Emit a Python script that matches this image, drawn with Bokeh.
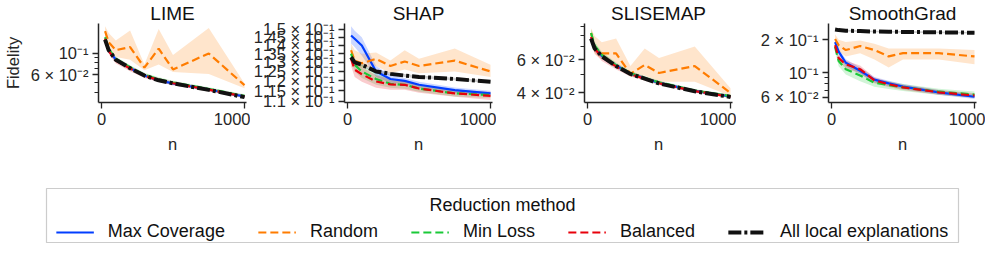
from bokeh.plotting import figure
from bokeh.models import Range1d, FixedTicker, Legend, LegendItem, Label
from bokeh.layouts import column, row
from bokeh.embed import file_html
from bokeh.resources import INLINE

# ---------------- data ----------------
N = [25, 50, 100, 200, 300, 400, 500, 750, 1000]
METHODS = ["Max Coverage", "Random", "Min Loss", "Balanced", "All local explanations"]
COLORS = ["#023eff", "#ff7c00", "#1ac938", "#e8000b", "#111111"]
DASHES = ["solid", "8 4", "8 4", "8 4", "13 3 3 3"]
WIDTHS = [2.2, 2.2, 2.2, 2.2, 4]
PANELS = ["LIME", "SHAP", "SLISEMAP", "SmoothGrad"]
X_TICKS = [0, 1000]

# LIME
LIME_MAXCOV = [0.135, 0.106, 0.086, 0.0705, 0.059, 0.0525, 0.049, 0.0425, 0.036]
LIME_MAXCOV_LO = [0.129, 0.101, 0.082, 0.0675, 0.0565, 0.0505, 0.047, 0.041, 0.0347]
LIME_MAXCOV_HI = [0.141, 0.111, 0.090, 0.0735, 0.0615, 0.0545, 0.051, 0.044, 0.0373]
LIME_RANDOM = [0.167, 0.129, 0.107, 0.115, 0.071, 0.111, 0.068, 0.099, 0.047]
LIME_RANDOM_LO = [0.149, 0.108, 0.091, 0.0855, 0.0666, 0.0765, 0.064, 0.061, 0.0437]
LIME_RANDOM_HI = [0.187, 0.16, 0.134, 0.17, 0.0765, 0.176, 0.0956, 0.18, 0.049]
LIME_MINLOSS = [0.145, 0.11, 0.0875, 0.0715, 0.06, 0.054, 0.05, 0.043, 0.0365]
LIME_MINLOSS_LO = [0.137, 0.104, 0.083, 0.068, 0.057, 0.0515, 0.0478, 0.0412, 0.035]
LIME_MINLOSS_HI = [0.153, 0.116, 0.092, 0.075, 0.063, 0.0565, 0.0522, 0.0448, 0.038]
LIME_BALANCED = [0.14, 0.105, 0.084, 0.0695, 0.0585, 0.053, 0.0492, 0.0423, 0.036]
LIME_BALANCED_LO = [0.132, 0.098, 0.078, 0.065, 0.0555, 0.0505, 0.047, 0.0405, 0.0345]
LIME_BALANCED_HI = [0.148, 0.112, 0.09, 0.074, 0.0615, 0.0555, 0.0514, 0.0441, 0.0375]
LIME_ALL = [0.137, 0.107, 0.0855, 0.07, 0.0589, 0.0527, 0.0491, 0.0421, 0.0355]
LIME_ALL_LO = [0.134, 0.105, 0.084, 0.0688, 0.058, 0.052, 0.0485, 0.0416, 0.0351]
LIME_ALL_HI = [0.140, 0.109, 0.087, 0.0712, 0.0598, 0.0534, 0.0497, 0.0426, 0.0359]

# SHAP
SHAP_MAXCOV = [0.146, 0.144, 0.1398, 0.125, 0.121, 0.120, 0.118, 0.1153, 0.1137]
SHAP_MAXCOV_LO = [0.141, 0.139, 0.134, 0.122, 0.119, 0.1185, 0.1165, 0.114, 0.1125]
SHAP_MAXCOV_HI = [0.152, 0.149, 0.145, 0.128, 0.123, 0.1215, 0.1195, 0.1166, 0.115]
SHAP_RANDOM = [0.137, 0.131, 0.1295, 0.132, 0.128, 0.1305, 0.128, 0.131, 0.125]
SHAP_RANDOM_LO = [0.134, 0.128, 0.127, 0.128, 0.124, 0.126, 0.124, 0.125, 0.122]
SHAP_RANDOM_HI = [0.141, 0.137, 0.135, 0.1357, 0.131, 0.137, 0.132, 0.138, 0.1287]
SHAP_MINLOSS = [0.135, 0.1287, 0.125, 0.121, 0.1185, 0.118, 0.1161, 0.1137, 0.1129]
SHAP_MINLOSS_LO = [0.131, 0.125, 0.1215, 0.118, 0.1165, 0.116, 0.1145, 0.1122, 0.1115]
SHAP_MINLOSS_HI = [0.139, 0.132, 0.1285, 0.124, 0.1205, 0.12, 0.1177, 0.1152, 0.1143]
SHAP_BALANCED = [0.132, 0.126, 0.1235, 0.1197, 0.1182, 0.118, 0.1161, 0.1137, 0.1125]
SHAP_BALANCED_LO = [0.128, 0.122, 0.1195, 0.1165, 0.1155, 0.1155, 0.114, 0.112, 0.1105]
SHAP_BALANCED_HI = [0.137, 0.130, 0.1275, 0.123, 0.121, 0.1205, 0.1182, 0.1155, 0.1145]
SHAP_ALL = [0.133, 0.130, 0.1287, 0.125, 0.1237, 0.1228, 0.1221, 0.121, 0.1195]
SHAP_ALL_LO = [0.1315, 0.1288, 0.1277, 0.1242, 0.1229, 0.122, 0.1214, 0.1203, 0.1188]
SHAP_ALL_HI = [0.1345, 0.1312, 0.1297, 0.1258, 0.1245, 0.1236, 0.1228, 0.1217, 0.1202]

# SLISEMAP
SLISE_MAXCOV = [0.078, 0.069, 0.0628, 0.0558, 0.0506, 0.0478, 0.0452, 0.041, 0.0383]
SLISE_MAXCOV_LO = [0.074, 0.066, 0.0605, 0.0542, 0.0494, 0.0468, 0.0443, 0.0403, 0.0377]
SLISE_MAXCOV_HI = [0.082, 0.072, 0.065, 0.0574, 0.0518, 0.0488, 0.0461, 0.0417, 0.0389]
SLISE_RANDOM = [0.083, 0.0687, 0.0647, 0.0647, 0.0504, 0.0562, 0.051, 0.0555, 0.04]
SLISE_RANDOM_LO = [0.0742, 0.064, 0.06, 0.0577, 0.0485, 0.0494, 0.0458, 0.0458, 0.0385]
SLISE_RANDOM_HI = [0.088, 0.08, 0.0742, 0.0775, 0.0555, 0.0687, 0.0612, 0.0703, 0.0424]
SLISE_MINLOSS = [0.083, 0.071, 0.0635, 0.056, 0.0508, 0.048, 0.0455, 0.0412, 0.0385]
SLISE_MINLOSS_LO = [0.079, 0.0675, 0.061, 0.054, 0.0494, 0.0468, 0.0445, 0.0404, 0.0378]
SLISE_MINLOSS_HI = [0.087, 0.0745, 0.066, 0.058, 0.0522, 0.0492, 0.0465, 0.042, 0.0392]
SLISE_BALANCED = [0.079, 0.0685, 0.062, 0.0552, 0.0502, 0.0476, 0.045, 0.0409, 0.0382]
SLISE_BALANCED_LO = [0.0745, 0.065, 0.059, 0.0532, 0.0488, 0.0464, 0.044, 0.0401, 0.0375]
SLISE_BALANCED_HI = [0.0835, 0.072, 0.065, 0.0572, 0.0516, 0.0488, 0.046, 0.0417, 0.0389]
SLISE_ALL = [0.0775, 0.0687, 0.0625, 0.0555, 0.0504, 0.0476, 0.0449, 0.0408, 0.0381]
SLISE_ALL_LO = [0.0765, 0.068, 0.062, 0.0551, 0.05, 0.0473, 0.0446, 0.0405, 0.0378]
SLISE_ALL_HI = [0.0785, 0.0694, 0.063, 0.0559, 0.0508, 0.0479, 0.0452, 0.0411, 0.0384]

# SmoothGrad
SG_MAXCOV = [0.19, 0.156, 0.1236, 0.1047, 0.087, 0.0804, 0.0753, 0.0668, 0.0609]
SG_MAXCOV_LO = [0.178, 0.146, 0.115, 0.098, 0.082, 0.076, 0.0715, 0.0636, 0.058]
SG_MAXCOV_HI = [0.203, 0.167, 0.133, 0.112, 0.092, 0.085, 0.0792, 0.070, 0.064]
SG_RANDOM = [0.203, 0.178, 0.161, 0.175, 0.161, 0.141, 0.151, 0.151, 0.141]
SG_RANDOM_LO = [0.178, 0.158, 0.141, 0.151, 0.132, 0.112, 0.132, 0.132, 0.12]
SG_RANDOM_HI = [0.224, 0.2, 0.19, 0.197, 0.184, 0.166, 0.166, 0.166, 0.161]
SG_MINLOSS = [0.172, 0.128, 0.108, 0.0948, 0.0815, 0.0777, 0.074, 0.0676, 0.0638]
SG_MINLOSS_LO = [0.158, 0.115, 0.097, 0.084, 0.075, 0.0715, 0.0685, 0.063, 0.0595]
SG_MINLOSS_HI = [0.186, 0.141, 0.119, 0.104, 0.088, 0.084, 0.0795, 0.072, 0.068]
SG_BALANCED = [0.178, 0.136, 0.1196, 0.108, 0.0858, 0.079, 0.074, 0.0668, 0.0625]
SG_BALANCED_LO = [0.166, 0.126, 0.11, 0.099, 0.0805, 0.0745, 0.07, 0.0635, 0.0595]
SG_BALANCED_HI = [0.19, 0.146, 0.129, 0.117, 0.091, 0.0835, 0.078, 0.0701, 0.0656]
SG_ALL = [0.247, 0.244, 0.241, 0.239, 0.237, 0.236, 0.235, 0.233, 0.231]
SG_ALL_LO = [0.242, 0.239, 0.237, 0.235, 0.233, 0.232, 0.231, 0.229, 0.227]
SG_ALL_HI = [0.252, 0.249, 0.245, 0.243, 0.241, 0.240, 0.239, 0.237, 0.235]

# y axis ticks per panel
LIME_YTICKS = [0.06, 0.1]
LIME_YLABELS = ["6 × 10⁻²", "10⁻¹"]
LIME_YMINOR = [0.04, 0.05, 0.07, 0.08, 0.09]
SHAP_YTICKS = [0.11, 0.115, 0.12, 0.125, 0.13, 0.135, 0.14, 0.145, 0.15]
SHAP_YLABELS = ["1.1 × 10⁻¹", "1.15 × 10⁻¹", "1.2 × 10⁻¹", "1.25 × 10⁻¹", "1.3 × 10⁻¹",
                "1.35 × 10⁻¹", "1.4 × 10⁻¹", "1.45 × 10⁻¹", "1.5 × 10⁻¹"]
SHAP_YMINOR = []
SLISE_YTICKS = [0.04, 0.06]
SLISE_YLABELS = ["4 × 10⁻²", "6 × 10⁻²"]
SLISE_YMINOR = [0.05, 0.07, 0.08, 0.09]
SG_YTICKS = [0.06, 0.1, 0.2]
SG_YLABELS = ["6 × 10⁻²", "10⁻¹", "2 × 10⁻¹"]
SG_YMINOR = [0.07, 0.08, 0.09]

LIME_YRANGE = (0.0313, 0.2)
SHAP_YRANGE = (0.1093, 0.1538)
SLISE_YRANGE = (0.0356, 0.0931)
SG_YRANGE = (0.054, 0.28)
X_RANGE = (-21, 1014)

# ---------------- plotting ----------------
FONT = "Liberation Sans"
INK = "#262626"

panel_data = [
    ([LIME_MAXCOV, LIME_RANDOM, LIME_MINLOSS, LIME_BALANCED, LIME_ALL],
     [LIME_MAXCOV_LO, LIME_RANDOM_LO, LIME_MINLOSS_LO, LIME_BALANCED_LO, LIME_ALL_LO],
     [LIME_MAXCOV_HI, LIME_RANDOM_HI, LIME_MINLOSS_HI, LIME_BALANCED_HI, LIME_ALL_HI],
     LIME_YRANGE, LIME_YTICKS, LIME_YLABELS, LIME_YMINOR),
    ([SHAP_MAXCOV, SHAP_RANDOM, SHAP_MINLOSS, SHAP_BALANCED, SHAP_ALL],
     [SHAP_MAXCOV_LO, SHAP_RANDOM_LO, SHAP_MINLOSS_LO, SHAP_BALANCED_LO, SHAP_ALL_LO],
     [SHAP_MAXCOV_HI, SHAP_RANDOM_HI, SHAP_MINLOSS_HI, SHAP_BALANCED_HI, SHAP_ALL_HI],
     SHAP_YRANGE, SHAP_YTICKS, SHAP_YLABELS, SHAP_YMINOR),
    ([SLISE_MAXCOV, SLISE_RANDOM, SLISE_MINLOSS, SLISE_BALANCED, SLISE_ALL],
     [SLISE_MAXCOV_LO, SLISE_RANDOM_LO, SLISE_MINLOSS_LO, SLISE_BALANCED_LO, SLISE_ALL_LO],
     [SLISE_MAXCOV_HI, SLISE_RANDOM_HI, SLISE_MINLOSS_HI, SLISE_BALANCED_HI, SLISE_ALL_HI],
     SLISE_YRANGE, SLISE_YTICKS, SLISE_YLABELS, SLISE_YMINOR),
    ([SG_MAXCOV, SG_RANDOM, SG_MINLOSS, SG_BALANCED, SG_ALL],
     [SG_MAXCOV_LO, SG_RANDOM_LO, SG_MINLOSS_LO, SG_BALANCED_LO, SG_ALL_LO],
     [SG_MAXCOV_HI, SG_RANDOM_HI, SG_MINLOSS_HI, SG_BALANCED_HI, SG_ALL_HI],
     SG_YRANGE, SG_YTICKS, SG_YLABELS, SG_YMINOR),
]

BORDERS = [(97, 4), (90, 4), (88, 4), (92, 9)]

figs = []
for i, (name, (vals, los, his, yr, yt, yl, ym)) in enumerate(zip(PANELS, panel_data)):
    bl, br = BORDERS[i]
    p = figure(frame_width=148, height=182,
               x_range=Range1d(*X_RANGE), y_range=Range1d(*yr), y_axis_type="log",
               output_backend="svg", toolbar_location=None,
               min_border_left=bl, min_border_right=br,
               min_border_top=21, min_border_bottom=80, title=name)
    p.title.align = "center"
    p.title.text_font = FONT
    p.title.text_font_size = "19px"
    p.title.text_font_style = "normal"
    p.title.text_color = "#111111"
    p.title.standoff = 0
    p.outline_line_color = None
    p.xgrid.visible = False
    p.ygrid.visible = False
    p.background_fill_color = None
    p.border_fill_color = None

    for c, lo, hi in zip(COLORS, los, his):
        p.varea(x=N, y1=lo, y2=hi, fill_color=c, fill_alpha=0.2)
    for c, v, d, w in zip(COLORS, vals, DASHES, WIDTHS):
        p.line(N, v, line_color=c, line_width=w, line_dash=d)

    p.xaxis.ticker = FixedTicker(ticks=X_TICKS, minor_ticks=[])
    p.yaxis.ticker = FixedTicker(ticks=yt, minor_ticks=ym)
    p.yaxis.major_label_overrides = {t: l for t, l in zip(yt, yl)}
    for ax in (p.xaxis[0], p.yaxis[0]):
        ax.axis_line_color = INK
        ax.axis_line_width = 1.5
        ax.major_tick_line_color = INK
        ax.major_tick_line_width = 1.3
        ax.minor_tick_line_color = INK
        ax.minor_tick_line_width = 1.1
        ax.major_tick_out = 6
        ax.major_tick_in = 0
        ax.minor_tick_out = 4
        ax.minor_tick_in = 0
        ax.major_label_text_font = FONT
        ax.major_label_text_font_size = "16.5px"
        ax.major_label_text_color = INK
        ax.major_label_standoff = 4
        ax.axis_label_text_font = FONT
        ax.axis_label_text_font_size = "16.5px"
        ax.axis_label_text_font_style = "normal"
        ax.axis_label_text_color = INK
    p.xaxis.axis_label = "n"
    p.xaxis.axis_label_standoff = 7
    if i == 0:
        p.yaxis.axis_label = "Fidelity"
        p.yaxis.axis_label_standoff = 6
    figs.append(p)

# ---------------- legend ----------------
leg = figure(frame_width=912, height=61, x_range=Range1d(0, 1), y_range=Range1d(0, 1),
             output_backend="svg", toolbar_location=None,
             x_axis_location=None, y_axis_location=None,
             min_border_left=46, min_border_right=22, min_border_top=6, min_border_bottom=1)
leg.xgrid.visible = False
leg.ygrid.visible = False
leg.outline_line_color = "#cccccc"
leg.outline_line_width = 1.2
leg.background_fill_color = None
leg.border_fill_color = None

# proxy renderers for the legend (their data lie outside this figure's range)
proxy_vals = [SG_MAXCOV, SG_RANDOM, SG_MINLOSS, SG_BALANCED, SG_ALL]
items = []
for m, c, d, w, v in zip(METHODS, COLORS, DASHES, WIDTHS, proxy_vals):
    r = leg.line(x=N, y=v, line_color=c, line_dash=d, line_width=w)
    items.append(LegendItem(label=m, renderers=[r]))
legend = Legend(items=items, orientation="horizontal", location="bottom_center",
                glyph_width=38, glyph_height=20, label_standoff=14, spacing=33,
                padding=3, margin=0, border_line_color=None, background_fill_alpha=0,
                label_text_font=FONT, label_text_font_size="18px", label_text_color="#111111")
leg.add_layout(legend)
leg.add_layout(Label(x=0.5, y=0.7, text="Reduction method", text_align="center",
                     text_baseline="middle", text_font=FONT, text_font_size="18px",
                     text_color="#111111"))

layout = column(row(*figs), leg)
open("out.html", "w").write(file_html(layout, INLINE))
